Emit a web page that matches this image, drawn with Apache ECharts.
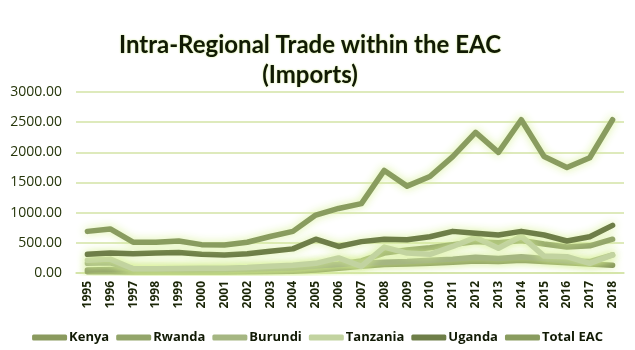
<!DOCTYPE html>
<html>
<head>
<meta charset="utf-8">
<script src="https://cdn.jsdelivr.net/npm/echarts@6/dist/echarts.min.js"></script>
<style>
  html, body { margin: 0; padding: 0; background: #ffffff; }
  #chart { width: 635px; height: 350px; }
</style>
</head>
<body>
<div id="chart"></div>
<script>
// Intra-regional imports within the EAC, 1995-2018
const years = ['1995','1996','1997','1998','1999','2000','2001','2002','2003','2004','2005','2006',
               '2007','2008','2009','2010','2011','2012','2013','2014','2015','2016','2017','2018'];

const kenya    = [20, 20, 15, 15, 15, 15, 15, 20, 25, 30, 50, 80, 110, 140, 150, 160, 180, 200, 190, 210, 190, 170, 150, 130];
const rwanda   = [50, 60, 50, 50, 50, 50, 55, 60, 70, 80, 110, 150, 200, 330, 380, 420, 470, 520, 500, 540, 480, 430, 450, 560];
const burundi  = [160, 170, 70, 65, 60, 60, 60, 70, 80, 90, 120, 140, 160, 180, 190, 210, 230, 260, 240, 270, 240, 200, 190, 300];
const tanzania = [210, 230, 70, 70, 75, 80, 80, 90, 110, 130, 160, 250, 110, 430, 330, 310, 440, 590, 410, 610, 280, 270, 160, 300];
const uganda   = [310, 330, 320, 330, 340, 310, 300, 320, 360, 400, 560, 440, 520, 560, 550, 600, 690, 660, 630, 690, 630, 530, 600, 790];
const totalEac = [690, 730, 510, 510, 530, 470, 465, 510, 605, 690, 960, 1070, 1150, 1700, 1440, 1600, 1930, 2330, 2000, 2540, 1930, 1750, 1910, 2540];

const yTicks = { min: 0, max: 3000, interval: 500 };

const seriesDefs = [
  { name: 'Kenya',     data: kenya,    color: '#8a9a5e' },
  { name: 'Rwanda',    data: rwanda,   color: '#93a56a' },
  { name: 'Burundi',   data: burundi,  color: '#a5b682' },
  { name: 'Tanzania',  data: tanzania, color: '#c2d3a0' },
  { name: 'Uganda',    data: uganda,   color: '#6e7e48' },
  { name: 'Total EAC', data: totalEac, color: '#899c5f' }
];

const titleFont = 'Lato, "Open Sans", sans-serif';
const font = '"Open Sans", Lato, sans-serif';
const chart = echarts.init(document.getElementById('chart'), null, { renderer: 'canvas' });

chart.setOption({
  animation: false,
  backgroundColor: '#ffffff',
  title: {
    text: 'Intra-Regional Trade within the EAC\n(Imports)',
    left: 305,
    textAlign: 'center',
    top: 25,
    textStyle: {
      fontFamily: titleFont,
      fontSize: 24,
      fontWeight: 'bold',
      color: '#111a05',
      lineHeight: 30,
      textShadowColor: 'rgba(200,230,120,0.9)',
      textShadowBlur: 2
    }
  },
  legend: {
    bottom: 1,
    left: 'center',
    itemWidth: 35,
    itemHeight: 6,
    itemGap: 7,
    icon: 'roundRect',
    textStyle: { fontFamily: font, fontSize: 13, fontWeight: 'bold', color: '#111a05', padding: [0, 0, 0, -3] },
    data: seriesDefs.map(s => s.name)
  },
  grid: { left: 76, right: 11, top: 92, bottom: 77, containLabel: false },
  xAxis: {
    type: 'category',
    data: years,
    boundaryGap: true,
    axisLine: { show: true, lineStyle: { color: '#d3e3a6', width: 1.5 } },
    axisTick: { show: false },
    axisLabel: {
      rotate: 90,
      interval: 0,
      margin: 8,
      fontFamily: font,
      fontSize: 12,
      fontWeight: 'bold',
      color: '#1b2608'
    }
  },
  yAxis: {
    type: 'value',
    min: yTicks.min,
    max: yTicks.max,
    interval: yTicks.interval,
    axisLine: { show: false },
    axisTick: { show: false },
    splitLine: { lineStyle: { color: '#d3e3a6', width: 1.5 } },
    axisLabel: {
      margin: 14,
      fontFamily: font,
      fontSize: 14,
      color: '#26360a',
      formatter: v => v.toFixed(2)
    }
  },
  series: seriesDefs.map(s => ({
    name: s.name,
    type: 'line',
    data: s.data,
    symbol: 'none',
    smooth: false,
    color: s.color,
    lineStyle: {
      width: 5.5,
      color: s.color,
      cap: 'round',
      join: 'round',
      shadowColor: 'rgba(215,240,150,0.95)',
      shadowBlur: 8
    }
  }))
});
</script>
</body>
</html>
